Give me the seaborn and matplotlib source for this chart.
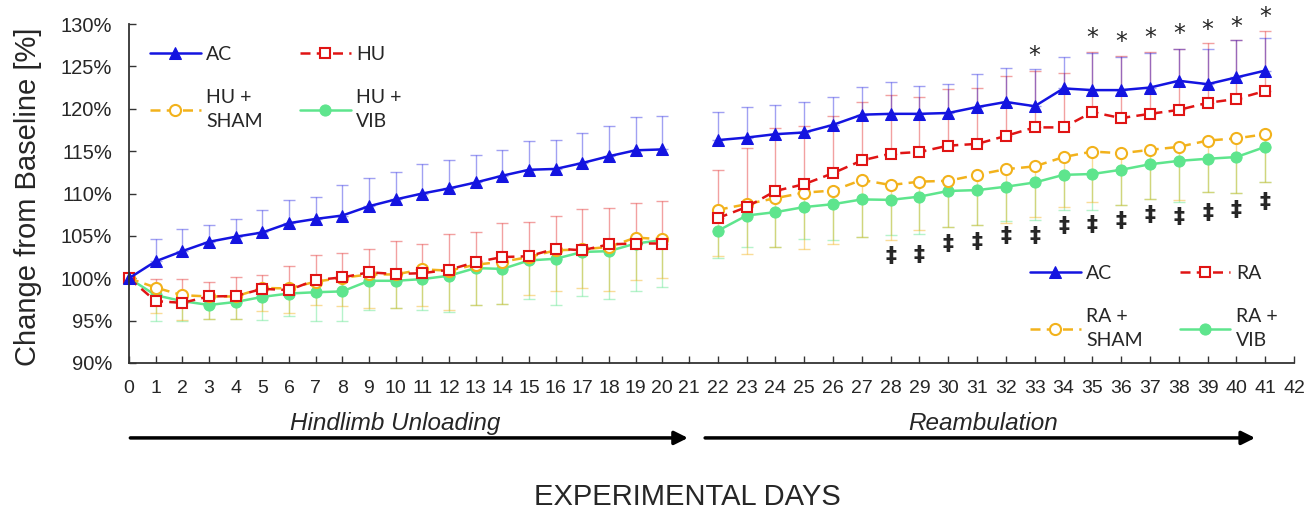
import numpy as np
import seaborn as sns
import matplotlib.pyplot as plt
from matplotlib.ticker import FuncFormatter

# data (percent of baseline)
days_hu = list(range(0, 21))
days_ra = list(range(22, 42))

ac_hu = [100, 102.0, 103.2, 104.3, 104.9, 105.4, 106.5, 107.0, 107.4, 108.5, 109.3,
         110.0, 110.6, 111.3, 112.1, 112.8, 112.9, 113.6, 114.4, 115.1, 115.2]
ac_hu_err = [0, 2.6, 2.6, 2.0, 2.1, 2.6, 2.7, 2.6, 3.6, 3.3, 3.2,
             3.5, 3.4, 3.3, 3.0, 3.4, 3.4, 3.5, 3.6, 3.9, 3.9]
hu = [100, 97.3, 97.1, 97.85, 97.9, 98.75, 98.6, 99.8, 100.1, 100.7, 100.5,
      100.6, 101.0, 101.9, 102.5, 102.6, 103.5, 103.3, 104.0, 104.1, 104.1]
hu_err = [0, 2.6, 2.8, 1.75, 2.2, 1.65, 2.9, 3.0, 2.9, 2.8, 3.9,
          3.4, 4.2, 3.5, 4.0, 4.0, 3.9, 4.9, 4.3, 4.8, 5.0]
hu_sham = [100, 98.9, 98.0, 97.85, 97.85, 98.85, 98.8, 99.6, 100.05, 100.45, 100.45,
           101.05, 100.9, 101.6, 101.95, 102.5, 103.3, 103.4, 103.7, 104.8, 104.6]
hu_sham_err = [0, 3.0, 2.9, 2.65, 2.65, 2.75, 2.9, 2.8, 3.35, 3.95, 3.95,
               4.3, 4.7, 4.7, 4.95, 4.5, 4.75, 4.6, 5.2, 5.0, 4.6]
hu_vib = [100, 98.0, 97.3, 96.85, 97.2, 97.8, 98.2, 98.35, 98.45, 99.7, 99.7,
          99.9, 100.3, 101.2, 101.1, 102.1, 102.3, 103.1, 103.2, 104.1, 104.5]
hu_vib_err = [0, 3.0, 2.3, 1.65, 2.0, 2.7, 2.6, 3.35, 3.45, 3.4, 3.2,
              3.6, 4.3, 4.3, 4.1, 4.5, 5.4, 5.25, 5.6, 5.6, 5.5]

ac_ra = [116.3, 116.6, 117.0, 117.2, 118.1, 119.3, 119.4, 119.4, 119.5, 120.2,
         120.8, 120.3, 122.4, 122.2, 122.2, 122.5, 123.3, 122.9, 123.7, 124.5]
ac_ra_err = [3.3, 3.65, 3.45, 3.6, 3.25, 3.3, 3.7, 3.3, 3.4, 3.9,
             4.05, 4.35, 3.67, 4.4, 3.87, 4.1, 3.7, 4.1, 4.4, 3.9]
ra = [107.1, 108.4, 110.3, 111.1, 112.4, 113.9, 114.7, 114.9, 115.65, 115.85,
      116.8, 117.8, 117.8, 119.6, 118.9, 119.4, 119.86, 120.7, 121.15, 122.1]
ra_err = [5.7, 7.0, 7.4, 6.9, 6.8, 6.9, 6.9, 6.5, 6.65, 6.55,
          7.07, 6.66, 6.46, 7.1, 7.3, 7.3, 7.24, 7.0, 6.95, 7.1]
ra_sham = [108.07, 108.74, 109.45, 110.1, 110.35, 111.6, 111.0, 111.4, 111.5, 112.2,
           112.87, 113.2, 114.3, 114.95, 114.75, 115.15, 115.5, 116.25, 116.5, 117.0]
ra_sham_err = [5.4, 5.9, 5.75, 6.7, 6.25, 6.75, 6.5, 5.7, 5.4, 5.9,
               6.3, 6.0, 5.9, 5.9, 6.05, 5.85, 6.3, 6.05, 6.4, 5.6]
ra_vib = [105.6, 107.4, 107.8, 108.4, 108.74, 109.3, 109.25, 109.63, 110.3, 110.4,
          110.8, 111.3, 112.2, 112.3, 112.8, 113.45, 113.85, 114.1, 114.3, 115.5]
ra_vib_err = [3.2, 3.7, 4.1, 3.75, 4.25, 4.45, 4.15, 4.35, 4.2, 4.1,
              4.0, 4.4, 4.1, 4.2, 4.1, 4.15, 4.8, 3.9, 4.2, 4.2]

# significance marks
star_days = [33, 35, 36, 37, 38, 39, 40, 41]
star_y = [127.1, 129.2, 128.7, 129.2, 129.6, 130.1, 130.5, 131.6]
dagger_days = list(range(28, 42))
dagger_y = [102.6, 102.8, 104.1, 104.3, 105.0, 105.0, 106.2, 106.3, 106.8,
            107.5, 107.2, 107.7, 108.0, 109.05]

sns.set_style("white")
plt.rcParams['font.family'] = ['Liberation Sans', 'DejaVu Sans']

BLUE = '#1414e0'
RED = '#e01414'
ORANGE = '#f2b21c'
GREEN = '#5ee58d'

fig, (ax1, ax2) = plt.subplots(1, 2, figsize=(13.07, 5.09), dpi=100, sharey=True,
                               gridspec_kw={'width_ratios': [560, 605]})
fig.subplots_adjust(left=129 / 1307, right=1294 / 1307, bottom=1 - 363 / 509,
                    top=1 - 24 / 509, wspace=0)


def draw_group(ax, x, series, names):
    ac, ac_e, g, g_e, sh, sh_e, vb, vb_e = series
    z = np.zeros(len(x))
    # one-sided error bars, faint
    ax.errorbar(x, vb, yerr=[vb_e, z], fmt='none', ecolor=GREEN, alpha=0.45,
                elinewidth=1, capsize=4.5, capthick=1)
    ax.errorbar(x, sh, yerr=[sh_e, z], fmt='none', ecolor=ORANGE, alpha=0.45,
                elinewidth=1, capsize=4.5, capthick=1)
    ax.errorbar(x, g, yerr=[z, g_e], fmt='none', ecolor=RED, alpha=0.4,
                elinewidth=1, capsize=4.5, capthick=1)
    ax.errorbar(x, ac, yerr=[z, ac_e], fmt='none', ecolor=BLUE, alpha=0.4,
                elinewidth=1, capsize=4.5, capthick=1)

    sns.lineplot(x=x, y=vb, ax=ax, color=GREEN, marker='o', markersize=8,
                 markeredgecolor=GREEN, lw=1.8, label=names[3], clip_on=False)
    sns.lineplot(x=x, y=sh, ax=ax, color=ORANGE, marker='o', markersize=8,
                 markerfacecolor='white', markeredgecolor=ORANGE, markeredgewidth=1.5,
                 linestyle=(0, (4, 2.5)), lw=1.8, label=names[2], clip_on=False)
    sns.lineplot(x=x, y=g, ax=ax, color=RED, marker='s', markersize=7.5,
                 markerfacecolor='white', markeredgecolor=RED, markeredgewidth=1.5,
                 linestyle=(0, (4, 2.5)), lw=1.8, label=names[1], clip_on=False)
    sns.lineplot(x=x, y=ac, ax=ax, color=BLUE, marker='^', markersize=8,
                 markeredgecolor=BLUE, lw=1.8, label=names[0], clip_on=False)


draw_group(ax1, days_hu, [ac_hu, ac_hu_err, hu, hu_err, hu_sham, hu_sham_err,
                          hu_vib, hu_vib_err],
           ['AC', 'HU', 'HU +\nSHAM', 'HU +\nVIB'])
draw_group(ax2, days_ra, [ac_ra, ac_ra_err, ra, ra_err, ra_sham, ra_sham_err,
                          ra_vib, ra_vib_err],
           ['AC', 'RA', 'RA +\nSHAM', 'RA +\nVIB'])

# asterisk glyph sits high in its box, so nudge it down a little
for d, y in zip(star_days, star_y):
    ax2.annotate('*', (d, y), xytext=(0, -5), textcoords='offset points',
                 ha='center', va='center', fontsize=17, family='DejaVu Sans',
                 annotation_clip=False)
for d, y in zip(dagger_days, dagger_y):
    ax2.text(d, y, '\u2021', ha='center', va='center', fontsize=16,
             fontweight='bold', family='DejaVu Sans')

# axes
ax1.set_xlim(0, 21)
ax2.set_xlim(21, 42)
ax1.set_ylim(90, 130)
ax1.set_yticks(range(90, 131, 5))
ax1.yaxis.set_major_formatter(FuncFormatter(lambda v, p: f'{v:.0f}%'))
ax1.set_xticks(range(0, 21))
ax2.set_xticks(range(21, 43))

for ax in (ax1, ax2):
    for s in ('top', 'right'):
        ax.spines[s].set_visible(False)
    ax.spines['bottom'].set_color('#333333')
    ax.spines['bottom'].set_linewidth(1.3)
    ax.tick_params(axis='x', direction='in', length=5, width=1, color='#333333',
                   labelsize=14, pad=12, bottom=True)
    ax.set_xlabel('')
    ax.set_ylabel('')
ax1.spines['left'].set_color('#333333')
ax1.spines['left'].set_linewidth(1.3)
ax1.tick_params(axis='y', direction='in', length=5, width=1, color='#333333',
                labelsize=14.5, pad=12, left=True)
ax2.spines['left'].set_visible(False)
ax2.tick_params(axis='y', left=False)

# legends
leg_kw = dict(ncol=2, frameon=False, loc='upper left', borderaxespad=0, borderpad=0,
              handlelength=2.6, handletextpad=0.3, columnspacing=1.9,
              labelspacing=1.35, prop={'family': 'Lato', 'size': 14})
for ax, anchor in ((ax1, (0.0375, 0.935)), (ax2, (0.5636, 0.29))):
    h, l = ax.get_legend_handles_labels()
    order = [3, 1, 2, 0]  # AC, +SHAM | HU, +VIB
    leg = ax.legend([h[i] for i in order], [l[i] for i in order],
                    bbox_to_anchor=anchor, **leg_kw)
    for t in leg.get_texts():
        t.set_linespacing(1.5)

# phase arrows and labels under the axis
xt1 = ax1.get_xaxis_transform()
xt2 = ax2.get_xaxis_transform()
arrow = dict(arrowstyle='-|>', lw=2.5, color='black', mutation_scale=20,
             shrinkA=0, shrinkB=0)
ax1.annotate('', xy=(20.96, -0.221), xytext=(0.05, -0.221), xycoords=xt1,
             arrowprops=arrow, annotation_clip=False)
ax2.annotate('', xy=(40.65, -0.221), xytext=(21.56, -0.221), xycoords=xt2,
             arrowprops=arrow, annotation_clip=False)
ax1.text(10, -0.177, 'Hindlimb Unloading', transform=xt1, ha='center', va='center',
         fontsize=17.5, style='italic')
ax2.text(31.2, -0.177, 'Reambulation', transform=xt2, ha='center', va='center',
         fontsize=17.5, style='italic')

fig.text(687 / 1307, 1 - 497 / 509, 'EXPERIMENTAL DAYS', ha='center', va='center',
         fontsize=21)
fig.text(28 / 1307, 1 - 197 / 509, 'Change from Baseline [%]', rotation=90,
         ha='center', va='center', fontsize=21)

fig.savefig('out.png', dpi=100)
